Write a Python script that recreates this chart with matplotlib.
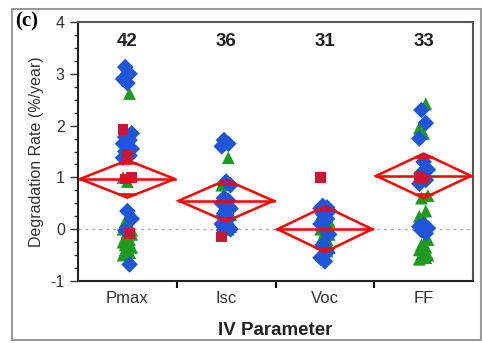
import matplotlib
matplotlib.use("Agg")
import matplotlib.pyplot as plt
from matplotlib.patches import Rectangle, Polygon

plt.rcParams['font.family'] = ['Liberation Sans', 'DejaVu Sans']
plt.rcParams['axes.unicode_minus'] = False

categories = ["Pmax", "Isc", "Voc", "FF"]
counts = [42, 36, 31, 33]

blue_vals = [
    [3.13, 3.0, 2.9, 2.82, 1.85, 1.78, 1.72, 1.65, 1.6, 1.55, 1.5, 1.42, 1.38, 0.35, 0.2, -0.02, -0.68],
    [1.72, 1.65, 1.6, 0.92, 0.85, 0.6, 0.55, 0.5, 0.45, 0.4, 0.3, 0.2, 0.1, 0.05, 0.0, -0.02],
    [0.45, 0.42, 0.4, 0.38, 0.35, 0.3, 0.2, 0.1, 0.0, -0.1, -0.3, -0.45, -0.55, -0.62],
    [2.3, 2.05, 1.75, 1.3, 1.15, 1.08, 0.95, 0.88, 0.08, 0.02, -0.02, -0.08, 0.05],
]
green_vals = [
    [2.62, 1.0, 0.92, 0.3, 0.15, 0.05, 0.0, -0.05, -0.1, -0.15, -0.2, -0.25, -0.3, -0.35, -0.4, -0.45, -0.5, 0.1, -0.02, -0.3],
    [1.38, 0.85, 0.6, 0.5, 0.45, 0.4, 0.35, 0.3, 0.28, 0.25, 0.2, 0.15, 0.1, 0.05, 0.02, 0.0, 0.35, 0.42, 0.1],
    [0.3, 0.25, 0.2, 0.15, 0.1, 0.05, 0.0, -0.05, -0.1, -0.15, -0.2, -0.25, -0.3, -0.35, -0.4, -0.42],
    [2.42, 1.95, 1.85, 0.65, 0.6, 0.35, 0.25, 0.2, -0.2, -0.3, -0.35, -0.4, -0.45, -0.5, -0.52, -0.55, -0.58, -0.3],
]
red_vals = [
    [1.92, 1.45, 1.0, 0.97, -0.08],
    [-0.15],
    [1.0],
    [1.0, 0.98],
]
means = [0.97, 0.55, 0.0, 1.03]
ci_half = [0.36, 0.40, 0.44, 0.43]

W, H = 482, 343
fig = plt.figure(figsize=(W / 100, H / 100), dpi=100)
ax = fig.add_axes([78 / W, 1 - 281 / H, (473 - 78) / W, (281 - 22) / H])

def jitter(n, k):
    return [(((i * 7 + k * 3) % 5) - 2) * 0.022 for i in range(n)]

for i in range(4):
    x0 = i + 1
    gv = green_vals[i]
    ax.scatter([x0 + d for d in jitter(len(gv), 1)], gv, marker='^', s=85,
               color='#1e9a1e', edgecolors='none', zorder=3)
    bv = blue_vals[i]
    ax.scatter([x0 + d for d in jitter(len(bv), 2)], bv, marker='D', s=72,
               color='#1f55d8', edgecolors='none', zorder=4)
    rv = red_vals[i]
    ax.scatter([x0 + d for d in jitter(len(rv), 0)], rv, marker='s', s=58,
               color='#c41835', edgecolors='none', zorder=5)

# mean diamonds
hw = 0.48
for i in range(4):
    x0 = i + 1
    m, h = means[i], ci_half[i]
    poly = Polygon([[x0 - hw, m], [x0, m + h], [x0 + hw, m], [x0, m - h]],
                   closed=True, fill=False, edgecolor='red', lw=1.8, zorder=6)
    ax.add_patch(poly)
    ax.plot([x0 - hw, x0 + hw], [m, m], color='red', lw=1.8, zorder=6)
    f = 0.83
    w = hw * (1 - f)
    for s in (1, -1):
        ax.plot([x0 - w, x0 + w], [m + s * f * h, m + s * f * h], color='red', lw=1.8, zorder=6)

ax.axhline(0, color='#aaaaaa', lw=1, ls=(0, (2, 3)), zorder=1)

for i, c in enumerate(counts):
    ax.text(i + 1, 3.63, str(c), ha='center', va='center', fontsize=13.5,
            fontweight='bold', color='#222222')

ax.set_xlim(0.5, 4.5)
ax.set_ylim(-1, 4)
ax.set_yticks([-1, 0, 1, 2, 3, 4])
ax.set_yticks([v / 4 for v in range(-4, 16)], minor=True)
ax.set_xticks([1, 2, 3, 4])
ax.set_xticklabels(categories)
ax.set_xticks([1.5, 2.5, 3.5], minor=True)
ax.tick_params(axis='x', which='major', length=0, labelsize=12, pad=7, colors='#333333')
ax.tick_params(axis='x', which='minor', length=5, width=1.5, direction='out')
ax.tick_params(axis='y', which='major', length=6, width=1, direction='out', labelsize=11.5, colors='#333333')
ax.tick_params(axis='y', which='minor', length=3, width=1, direction='out', color='#333333')
for sp in ['left', 'bottom']:
    ax.spines[sp].set_linewidth(1.5)
    ax.spines[sp].set_color('#222222')
for sp in ['top', 'right']:
    ax.spines[sp].set_linewidth(1.5)
    ax.spines[sp].set_color('#555555')

ax.set_ylabel("Degradation Rate (%/year)", fontsize=11.5, color='#333333', labelpad=5)
ax.set_xlabel("IV Parameter", fontsize=13.5, fontweight='bold', color='#222222', labelpad=12)

fig.text(15 / W, 1 - 21 / H, "(c)", fontsize=15, fontweight='bold',
         family=['Liberation Serif', 'DejaVu Serif'], va='center', ha='left')

fig.patches.append(Rectangle((12 / W, 1 - 340 / H), (481 - 12) / W, (340 - 9) / H,
                             transform=fig.transFigure, fill=False, edgecolor='#999999', lw=1.5))

fig.savefig("out.png", dpi=100)
